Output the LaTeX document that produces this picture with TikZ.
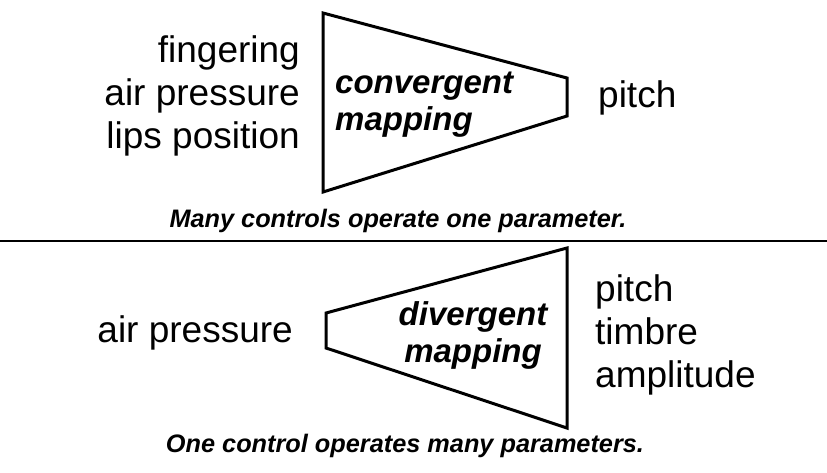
\documentclass[tikz,border=0pt]{standalone}
\usepackage{fontspec}
\setmainfont{Liberation Sans}
\usetikzlibrary{positioning}
\tikzstyle{funnel}=[draw=black,line width=3pt,line join=miter]
\tikzstyle{param}=[inner sep=0pt,font=\fontsize{37}{43}\selectfont]
\tikzstyle{maplabel}=[inner sep=0pt,font=\fontsize{33}{37}\selectfont\bfseries\itshape]
\tikzstyle{caption}=[inner sep=0pt,font=\fontsize{25.3}{30}\selectfont\bfseries\itshape]
\begin{document}
\begin{tikzpicture}[x=1pt,y=-1pt]
\useasboundingbox (0,0) rectangle (827,472);

	% Convergent mapping
    \draw[funnel] (323,13) -- (567,78) -- (567,116) -- (323,192) -- cycle;
    \node[param, align=right, anchor=base east] (C-in) at (300,148) {fingering\\air pressure\\lips position};
    \node[maplabel, align=left, anchor=base west] (C-map) at (335,130) {convergent\\mapping};
    \node[param, anchor=base west] (C-out) at (598,107) {pitch};
    \node[caption, anchor=base] (C-cap) at (398,227) {Many controls operate one parameter.};

    \draw[line width=1.2pt] (0,241) -- (827,241);

	% Divergent mapping
    \draw[funnel] (326,313) -- (567,248) -- (567,428) -- (326,348) -- cycle;
    \node[param, anchor=base east] (D-in) at (293,342) {air pressure};
    \node[maplabel, align=center, anchor=base] (D-map) at (473,362) {divergent\\mapping};
    \node[param, align=left, anchor=base west] (D-out) at (595,387) {pitch\\timbre\\amplitude};
    \node[caption, anchor=base] (D-cap) at (405,452) {One control operates many parameters.};

\end{tikzpicture}
\end{document}
